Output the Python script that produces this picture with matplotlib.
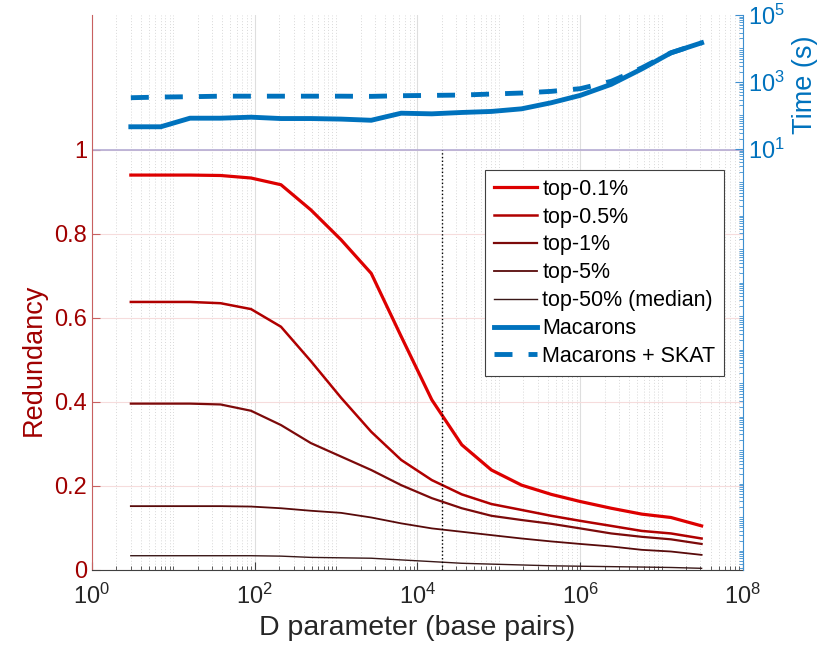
import numpy as np
import matplotlib
matplotlib.use("Agg")
import matplotlib.pyplot as plt
from matplotlib.ticker import LogLocator, NullFormatter, FixedLocator

plt.rcParams['font.family'] = ['Liberation Sans', 'DejaVu Sans']
plt.rcParams['mathtext.default'] = 'regular'

# D parameter (base pairs)
d_param = [3, 7, 16, 38, 90, 210, 490, 1150, 2700, 6300, 1.5e4, 3.5e4, 8.1e4,
           1.9e5, 4.4e5, 1.0e6, 2.4e6, 5.7e6, 1.3e7, 3.1e7]

# redundancy curves
top01 = [0.940, 0.940, 0.940, 0.939, 0.933, 0.917, 0.857, 0.786, 0.706, 0.556,
         0.405, 0.298, 0.238, 0.202, 0.180, 0.163, 0.147, 0.133, 0.125, 0.105]
top05 = [0.638, 0.638, 0.638, 0.635, 0.621, 0.579, 0.497, 0.410, 0.329, 0.262,
         0.214, 0.180, 0.157, 0.143, 0.129, 0.117, 0.105, 0.093, 0.087, 0.075]
top1 = [0.396, 0.396, 0.396, 0.394, 0.379, 0.345, 0.302, 0.270, 0.238, 0.202,
        0.171, 0.147, 0.129, 0.119, 0.110, 0.099, 0.087, 0.079, 0.073, 0.062]
top5 = [0.152, 0.152, 0.152, 0.152, 0.151, 0.147, 0.141, 0.136, 0.125, 0.111,
        0.099, 0.091, 0.083, 0.075, 0.068, 0.062, 0.056, 0.048, 0.044, 0.036]
median = [0.034, 0.034, 0.034, 0.034, 0.034, 0.033, 0.030, 0.029, 0.028, 0.024,
          0.020, 0.016, 0.014, 0.012, 0.010, 0.009, 0.008, 0.007, 0.006, 0.004]

# run times (s)
macarons = [46, 46, 83, 83, 89, 81, 81, 78, 72, 117, 112, 123, 132, 158, 240,
            398, 851, 2455, 7413, 14790]
macarons_skat = [339, 355, 363, 377, 377, 377, 377, 377, 372, 389, 398, 407,
                 437, 468, 525, 631, 1047, 2630, 7413, 14790]

d_marker = 2e4

fig = plt.figure(figsize=(8.37, 6.57), dpi=100)
ax = fig.add_axes([92/837, 1 - 570/657, 651/837, 555/657])
ax2 = ax.twinx()

red_styles = [
    (top01, 'top-0.1%', '#dd0000', 2.3),
    (top05, 'top-0.5%', '#b00000', 1.8),
    (top1, 'top-1%', '#7c0a0a', 1.6),
    (top5, 'top-5%', '#580a0a', 1.3),
    (median, 'top-50% (median)', '#3a1818', 1.0),
]
handles = []
for vals, lab, col, lw in red_styles:
    h, = ax.plot(d_param, vals, color=col, lw=lw, label=lab)
    handles.append(h)

ax.plot([d_marker, d_marker], [0, 1], color='k', ls=':', lw=1)
ax.axhline(1, color='#b4acd4', lw=1.2, zorder=1)

h1, = ax2.plot(d_param, macarons, color='#0072BD', lw=3.5, label='Macarons')
h2, = ax2.plot(d_param, macarons_skat, color='#0072BD', lw=3.5,
               dashes=(3.7, 3.3), label='Macarons + SKAT')
handles += [h1, h2]

ax.set_xscale('log')
ax.set_xlim(1, 1e8)
ax.set_ylim(0, 1.321)
ax.set_xticks([1, 1e2, 1e4, 1e6, 1e8])
ax.xaxis.set_minor_locator(LogLocator(base=10, subs=np.arange(1, 10), numticks=100))
ax.xaxis.set_minor_formatter(NullFormatter())
ax.set_yticks([0, 0.2, 0.4, 0.6, 0.8, 1])
ax.set_yticklabels(['0', '0.2', '0.4', '0.6', '0.8', '1'])

ax2.set_yscale('log')
ax2.set_ylim(10 ** -11.57, 1e5)
ax2.yaxis.set_major_locator(FixedLocator([1e1, 1e3, 1e5]))
ax2.yaxis.set_minor_locator(LogLocator(base=10, subs=np.arange(1, 10), numticks=100))
ax2.yaxis.set_minor_formatter(NullFormatter())

# grid
ax.grid(True, which='major', axis='x', color='#dedede', lw=0.8, ls='-')
ax.grid(True, which='minor', axis='x', color='#d8d8d8', lw=0.7, ls=(0, (1, 2)))
ax.grid(True, which='major', axis='y', color='#f6dcdc', lw=0.8, ls='-')
ax.set_axisbelow(True)

red_axis = '#c86060'
blue_axis = '#3d8fd0'
for s in ['top', 'right']:
    ax.spines[s].set_visible(False)
for s in ['top', 'left', 'bottom']:
    ax2.spines[s].set_visible(False)
ax.spines['left'].set_color(red_axis)
ax.spines['bottom'].set_color('#404040')
ax2.spines['right'].set_color(blue_axis)

ax.tick_params(axis='x', which='both', direction='in', colors='#404040',
               labelcolor='#262626', labelsize=17, pad=10)
ax.tick_params(axis='x', which='major', length=6)
ax.tick_params(axis='x', which='minor', length=3)
ax.tick_params(axis='y', direction='in', color=red_axis, labelcolor='#a00000',
               labelsize=17, length=6)
ax2.tick_params(axis='y', which='both', direction='in', color=blue_axis,
                labelcolor='#0072BD', labelsize=17)
ax2.tick_params(axis='y', which='major', length=6)
ax2.tick_params(axis='y', which='minor', length=3)

ax.set_xlabel('D parameter (base pairs)', fontsize=20.5, color='#262626')
ax.set_ylabel('Redundancy', fontsize=19.5, color='#a00000')
ax.yaxis.set_label_coords(-0.07, 0.378)
ax2.set_ylabel('Time (s)', fontsize=19.5, color='#0072BD')
ax2.yaxis.set_label_coords(1.075, 0.874)

leg = ax2.legend(handles=handles, loc='upper right', bbox_to_anchor=(0.971, 0.7207),
                 borderaxespad=0, fontsize=15.5, frameon=True, fancybox=False,
                 framealpha=1, edgecolor='#404040', handlelength=2.0,
                 handletextpad=0.25, labelspacing=0.32, borderpad=0.4)
leg.get_frame().set_linewidth(0.8)

fig.savefig('out.png', dpi=100)
